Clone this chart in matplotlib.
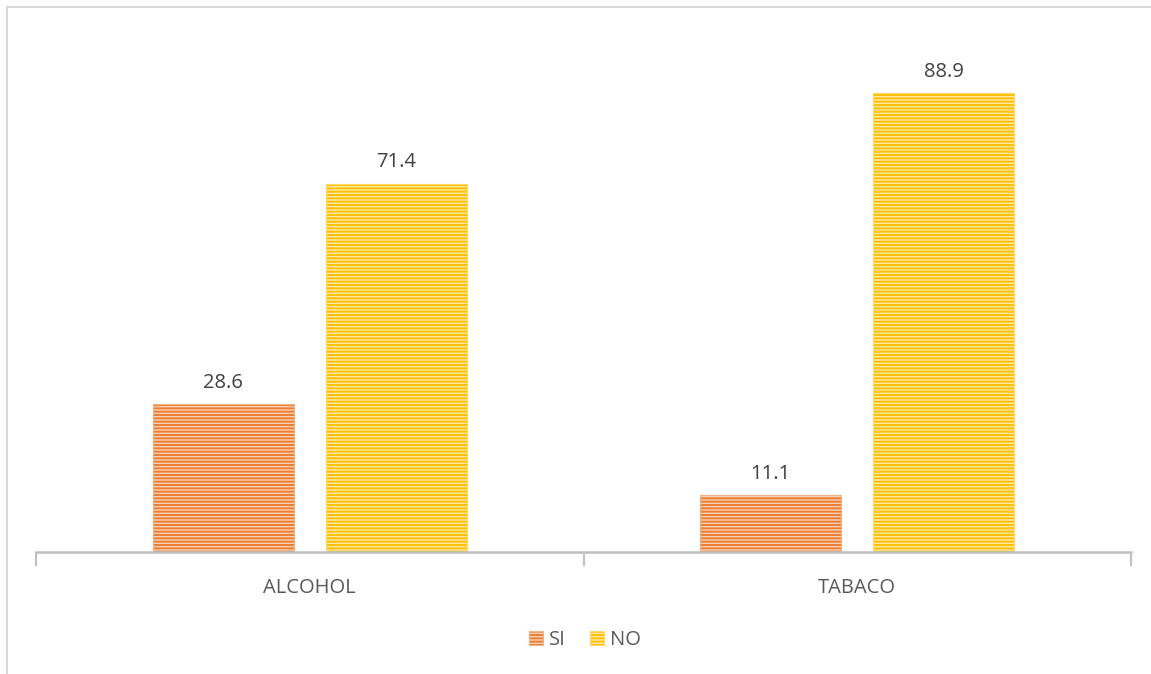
import matplotlib.pyplot as plt
import matplotlib.patches as mpatches
import numpy as np

categorias = ['ALCOHOL', 'TABACO']
si = [28.6, 11.1]
no = [71.4, 88.9]

plt.rcParams['font.family'] = ['Open Sans', 'DejaVu Sans']
plt.rcParams['hatch.linewidth'] = 1.4

fig = plt.figure(figsize=(11.51, 6.74), dpi=100)
ax = fig.add_axes([36/1151, 122/674, 1095/1151, 516/674])

# marco exterior del grafico
fig.patches.append(mpatches.Rectangle((7/1151, -0.05), 1.2, (674-7)/674 + 0.05,
                                      transform=fig.transFigure, fill=False,
                                      edgecolor='#D9D9D9', linewidth=1.5))

x = np.arange(len(categorias))
ancho = 0.258
desp = 0.158

b1 = ax.bar(x - desp, si, ancho, color='#F9D3B8', hatch='-----', edgecolor='#F4B183',
            linewidth=0.8, label='SI')
b2 = ax.bar(x + desp, no, ancho, color='#FFE9A8', hatch='-----', edgecolor='#FFD966',
            linewidth=0.8, label='NO')
for b in b1:
    b._hatch_color = (0.929, 0.490, 0.192, 1)
for b in b2:
    b._hatch_color = (1.0, 0.753, 0.0, 1)

for barras in (b1, b2):
    for b in barras:
        ax.annotate(f'{b.get_height():.1f}', (b.get_x() + b.get_width()/2, b.get_height()),
                    xytext=(0, 8), textcoords='offset points', ha='center', va='bottom',
                    fontsize=14.5, color='#404040')

ax.set_xlim(-0.5, 1.5)
ax.set_ylim(0, 100)
ax.set_xticks(x)
ax.set_xticklabels(categorias, fontsize=14.5, color='#595959')
ax.tick_params(axis='x', which='major', length=0, pad=19)
ax.set_xticks([-0.5, 0.5, 1.5], minor=True)
ax.tick_params(axis='x', which='minor', length=10, width=1.5, color='#BFBFBF')
ax.set_yticks([])
for s in ('top', 'right', 'left'):
    ax.spines[s].set_visible(False)
ax.spines['bottom'].set_color('#BFBFBF')
ax.spines['bottom'].set_linewidth(1.8)

ley = fig.legend(handles=[b1, b2], loc='center', bbox_to_anchor=(585/1151, 1 - 640/674),
                 ncol=2, frameon=False, fontsize=14.5, handlelength=0.7, handleheight=0.7,
                 handletextpad=0.3, columnspacing=1.2, labelcolor='#595959')

fig.savefig('out.png', dpi=100)
